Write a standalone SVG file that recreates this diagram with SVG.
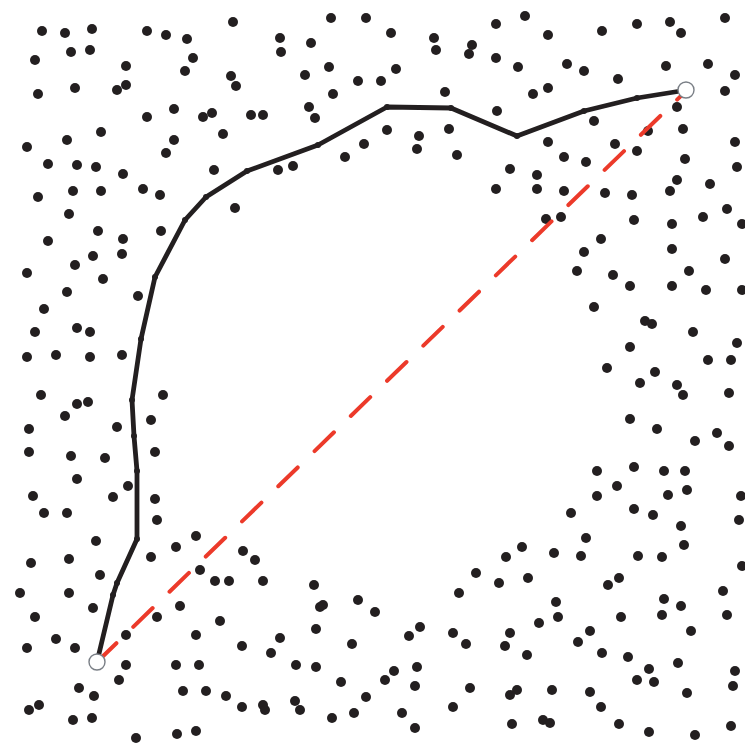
<svg xmlns="http://www.w3.org/2000/svg" width="745" height="744" viewBox="0 0 745 744">
<defs>
<style>
.d{fill:#231f20}
.k{fill:#231f20}
.path{fill:none;stroke:#231f20;stroke-width:4.8;stroke-linejoin:round;stroke-linecap:round}
.dash{fill:none;stroke:#ec3a2a;stroke-width:4;stroke-dasharray:27 23.5;stroke-linecap:round}
.end{fill:#ffffff;stroke:#7a7f86;stroke-width:1.4}
</style>
</defs>
<rect width="745" height="744" fill="#ffffff"/>
<g id="dots">
<circle class="d" r="5" cx="42" cy="31"/><circle class="d" r="5" cx="65" cy="33"/><circle class="d" r="5" cx="92" cy="29"/><circle class="d" r="5" cx="147" cy="31"/><circle class="d" r="5" cx="166" cy="35"/><circle class="d" r="5" cx="187" cy="39"/><circle class="d" r="5" cx="233" cy="22"/><circle class="d" r="5" cx="35" cy="60"/><circle class="d" r="5" cx="71" cy="52"/><circle class="d" r="5" cx="90" cy="50"/><circle class="d" r="5" cx="126" cy="66"/><circle class="d" r="5" cx="193" cy="58"/><circle class="d" r="5" cx="185" cy="71"/><circle class="d" r="5" cx="231" cy="76"/><circle class="d" r="5" cx="236" cy="86"/><circle class="d" r="5" cx="38" cy="94"/><circle class="d" r="5" cx="75" cy="88"/><circle class="d" r="5" cx="117" cy="90"/><circle class="d" r="5" cx="126" cy="85"/><circle class="d" r="5" cx="174" cy="109"/><circle class="d" r="5" cx="147" cy="117"/><circle class="d" r="5" cx="203" cy="117"/><circle class="d" r="5" cx="212" cy="113"/><circle class="d" r="5" cx="251" cy="115"/><circle class="d" r="5" cx="223" cy="134"/><circle class="d" r="5" cx="101" cy="132"/><circle class="d" r="5" cx="67" cy="140"/><circle class="d" r="5" cx="27" cy="147"/><circle class="d" r="5" cx="174" cy="140"/><circle class="d" r="5" cx="166" cy="153"/><circle class="d" r="5" cx="48" cy="164"/><circle class="d" r="5" cx="77" cy="165"/><circle class="d" r="5" cx="96" cy="167"/><circle class="d" r="5" cx="123" cy="174"/><circle class="d" r="5" cx="214" cy="170"/><circle class="d" r="5" cx="73" cy="191"/><circle class="d" r="5" cx="101" cy="191"/><circle class="d" r="5" cx="143" cy="189"/><circle class="d" r="5" cx="160" cy="195"/><circle class="d" r="5" cx="38" cy="197"/><circle class="d" r="5" cx="235" cy="208"/><circle class="d" r="5" cx="69" cy="214"/><circle class="d" r="5" cx="98" cy="231"/><circle class="d" r="5" cx="161" cy="231"/><circle class="d" r="5" cx="48" cy="241"/><circle class="d" r="5" cx="123" cy="239"/>
<circle class="d" r="5" cx="331" cy="18"/><circle class="d" r="5" cx="366" cy="18"/><circle class="d" r="5" cx="391" cy="33"/><circle class="d" r="5" cx="280" cy="38"/><circle class="d" r="5" cx="281" cy="52"/><circle class="d" r="5" cx="311" cy="43"/><circle class="d" r="5" cx="434" cy="38"/><circle class="d" r="5" cx="436" cy="50"/><circle class="d" r="5" cx="472" cy="45"/><circle class="d" r="5" cx="469" cy="54"/><circle class="d" r="5" cx="496" cy="24"/><circle class="d" r="5" cx="496" cy="58"/><circle class="d" r="5" cx="329" cy="67"/><circle class="d" r="5" cx="305" cy="75"/><circle class="d" r="5" cx="358" cy="81"/><circle class="d" r="5" cx="381" cy="81"/><circle class="d" r="5" cx="396" cy="69"/><circle class="d" r="5" cx="333" cy="94"/><circle class="d" r="5" cx="445" cy="92"/><circle class="d" r="5" cx="263" cy="115"/><circle class="d" r="5" cx="309" cy="107"/><circle class="d" r="5" cx="315" cy="118"/><circle class="d" r="5" cx="497" cy="111"/><circle class="d" r="5" cx="387" cy="130"/><circle class="d" r="5" cx="419" cy="136"/><circle class="d" r="5" cx="417" cy="149"/><circle class="d" r="5" cx="449" cy="129"/><circle class="d" r="5" cx="457" cy="155"/><circle class="d" r="5" cx="364" cy="144"/><circle class="d" r="5" cx="345" cy="157"/><circle class="d" r="5" cx="293" cy="166"/><circle class="d" r="5" cx="278" cy="170"/><circle class="d" r="5" cx="496" cy="189"/>
<circle class="d" r="5" cx="525" cy="16"/><circle class="d" r="5" cx="548" cy="35"/><circle class="d" r="5" cx="602" cy="31"/><circle class="d" r="5" cx="637" cy="24"/><circle class="d" r="5" cx="670" cy="22"/><circle class="d" r="5" cx="681" cy="33"/><circle class="d" r="5" cx="725" cy="18"/><circle class="d" r="5" cx="518" cy="67"/><circle class="d" r="5" cx="567" cy="64"/><circle class="d" r="5" cx="584" cy="71"/><circle class="d" r="5" cx="618" cy="79"/><circle class="d" r="5" cx="666" cy="66"/><circle class="d" r="5" cx="708" cy="64"/><circle class="d" r="5" cx="735" cy="75"/><circle class="d" r="5" cx="725" cy="91"/><circle class="d" r="5" cx="533" cy="94"/><circle class="d" r="5" cx="548" cy="88"/><circle class="d" r="5" cx="594" cy="121"/><circle class="d" r="5" cx="677" cy="107"/><circle class="d" r="5" cx="683" cy="129"/><circle class="d" r="5" cx="548" cy="142"/><circle class="d" r="5" cx="615" cy="144"/><circle class="d" r="5" cx="637" cy="151"/><circle class="d" r="5" cx="735" cy="142"/><circle class="d" r="5" cx="648" cy="131"/><circle class="d" r="5" cx="564" cy="157"/><circle class="d" r="5" cx="586" cy="162"/><circle class="d" r="5" cx="685" cy="159"/><circle class="d" r="5" cx="510" cy="169"/><circle class="d" r="5" cx="537" cy="175"/><circle class="d" r="5" cx="537" cy="189"/><circle class="d" r="5" cx="737" cy="167"/><circle class="d" r="5" cx="677" cy="180"/><circle class="d" r="5" cx="564" cy="191"/><circle class="d" r="5" cx="605" cy="193"/><circle class="d" r="5" cx="632" cy="195"/><circle class="d" r="5" cx="670" cy="191"/><circle class="d" r="5" cx="710" cy="184"/><circle class="d" r="5" cx="546" cy="219"/><circle class="d" r="5" cx="561" cy="217"/><circle class="d" r="5" cx="634" cy="220"/><circle class="d" r="5" cx="672" cy="224"/><circle class="d" r="5" cx="703" cy="217"/><circle class="d" r="5" cx="727" cy="209"/><circle class="d" r="5" cx="742" cy="224"/><circle class="d" r="5" cx="601" cy="239"/><circle class="d" r="5" cx="672" cy="249"/><circle class="d" r="5" cx="584" cy="252"/>
<circle class="d" r="5" cx="93" cy="256"/><circle class="d" r="5" cx="122" cy="254"/><circle class="d" r="5" cx="75" cy="265"/><circle class="d" r="5" cx="27" cy="273"/><circle class="d" r="5" cx="103" cy="279"/><circle class="d" r="5" cx="67" cy="292"/><circle class="d" r="5" cx="138" cy="296"/><circle class="d" r="5" cx="44" cy="309"/><circle class="d" r="5" cx="35" cy="332"/><circle class="d" r="5" cx="77" cy="328"/><circle class="d" r="5" cx="90" cy="332"/><circle class="d" r="5" cx="27" cy="357"/><circle class="d" r="5" cx="56" cy="355"/><circle class="d" r="5" cx="90" cy="357"/><circle class="d" r="5" cx="122" cy="355"/><circle class="d" r="5" cx="163" cy="395"/><circle class="d" r="5" cx="41" cy="395"/><circle class="d" r="5" cx="77" cy="404"/><circle class="d" r="5" cx="88" cy="402"/><circle class="d" r="5" cx="65" cy="416"/><circle class="d" r="5" cx="151" cy="420"/><circle class="d" r="5" cx="117" cy="427"/><circle class="d" r="5" cx="29" cy="429"/><circle class="d" r="5" cx="29" cy="452"/><circle class="d" r="5" cx="71" cy="456"/><circle class="d" r="5" cx="105" cy="458"/><circle class="d" r="5" cx="155" cy="452"/><circle class="d" r="5" cx="77" cy="479"/><circle class="d" r="5" cx="128" cy="486"/><circle class="d" r="5" cx="33" cy="496"/><circle class="d" r="5" cx="113" cy="497"/><circle class="d" r="5" cx="155" cy="499"/>
<circle class="d" r="5" cx="725" cy="259"/><circle class="d" r="5" cx="577" cy="271"/><circle class="d" r="5" cx="613" cy="275"/><circle class="d" r="5" cx="630" cy="286"/><circle class="d" r="5" cx="689" cy="271"/><circle class="d" r="5" cx="672" cy="286"/><circle class="d" r="5" cx="706" cy="290"/><circle class="d" r="5" cx="742" cy="290"/><circle class="d" r="5" cx="594" cy="307"/><circle class="d" r="5" cx="645" cy="321"/><circle class="d" r="5" cx="652" cy="324"/><circle class="d" r="5" cx="693" cy="332"/><circle class="d" r="5" cx="737" cy="343"/><circle class="d" r="5" cx="630" cy="347"/><circle class="d" r="5" cx="708" cy="360"/><circle class="d" r="5" cx="731" cy="360"/><circle class="d" r="5" cx="607" cy="368"/><circle class="d" r="5" cx="655" cy="372"/><circle class="d" r="5" cx="640" cy="383"/><circle class="d" r="5" cx="677" cy="385"/><circle class="d" r="5" cx="683" cy="395"/><circle class="d" r="5" cx="729" cy="393"/><circle class="d" r="5" cx="630" cy="419"/><circle class="d" r="5" cx="657" cy="429"/><circle class="d" r="5" cx="717" cy="433"/><circle class="d" r="5" cx="695" cy="441"/><circle class="d" r="5" cx="729" cy="446"/><circle class="d" r="5" cx="597" cy="471"/><circle class="d" r="5" cx="634" cy="467"/><circle class="d" r="5" cx="664" cy="471"/><circle class="d" r="5" cx="685" cy="471"/><circle class="d" r="5" cx="617" cy="486"/><circle class="d" r="5" cx="597" cy="496"/><circle class="d" r="5" cx="668" cy="495"/><circle class="d" r="5" cx="687" cy="490"/><circle class="d" r="5" cx="741" cy="496"/>
<circle class="d" r="5" cx="44" cy="513"/><circle class="d" r="5" cx="67" cy="513"/><circle class="d" r="5" cx="157" cy="520"/><circle class="d" r="5" cx="96" cy="541"/><circle class="d" r="5" cx="196" cy="536"/><circle class="d" r="5" cx="176" cy="547"/><circle class="d" r="5" cx="243" cy="551"/><circle class="d" r="5" cx="31" cy="563"/><circle class="d" r="5" cx="69" cy="559"/><circle class="d" r="5" cx="151" cy="557"/><circle class="d" r="5" cx="100" cy="575"/><circle class="d" r="5" cx="200" cy="570"/><circle class="d" r="5" cx="215" cy="581"/><circle class="d" r="5" cx="229" cy="581"/><circle class="d" r="5" cx="20" cy="593"/><circle class="d" r="5" cx="69" cy="593"/><circle class="d" r="5" cx="180" cy="606"/><circle class="d" r="5" cx="93" cy="608"/><circle class="d" r="5" cx="35" cy="617"/><circle class="d" r="5" cx="157" cy="617"/><circle class="d" r="5" cx="220" cy="621"/><circle class="d" r="5" cx="126" cy="635"/><circle class="d" r="5" cx="56" cy="639"/><circle class="d" r="5" cx="196" cy="635"/><circle class="d" r="5" cx="27" cy="648"/><circle class="d" r="5" cx="75" cy="648"/><circle class="d" r="5" cx="242" cy="646"/><circle class="d" r="5" cx="126" cy="665"/><circle class="d" r="5" cx="176" cy="665"/><circle class="d" r="5" cx="199" cy="665"/><circle class="d" r="5" cx="119" cy="680"/><circle class="d" r="5" cx="79" cy="688"/><circle class="d" r="5" cx="94" cy="696"/><circle class="d" r="5" cx="183" cy="691"/><circle class="d" r="5" cx="206" cy="691"/><circle class="d" r="5" cx="226" cy="696"/><circle class="d" r="5" cx="242" cy="707"/><circle class="d" r="5" cx="29" cy="710"/><circle class="d" r="5" cx="39" cy="705"/><circle class="d" r="5" cx="73" cy="720"/><circle class="d" r="5" cx="92" cy="718"/><circle class="d" r="5" cx="136" cy="738"/><circle class="d" r="5" cx="177" cy="734"/><circle class="d" r="5" cx="196" cy="731"/>
<circle class="d" r="5" cx="255" cy="560"/><circle class="d" r="5" cx="263" cy="581"/><circle class="d" r="5" cx="314" cy="585"/><circle class="d" r="5" cx="320" cy="607"/><circle class="d" r="5" cx="323" cy="605"/><circle class="d" r="5" cx="358" cy="600"/><circle class="d" r="5" cx="375" cy="612"/><circle class="d" r="5" cx="316" cy="629"/><circle class="d" r="5" cx="280" cy="638"/><circle class="d" r="5" cx="271" cy="653"/><circle class="d" r="5" cx="352" cy="644"/><circle class="d" r="5" cx="409" cy="636"/><circle class="d" r="5" cx="420" cy="627"/><circle class="d" r="5" cx="453" cy="633"/><circle class="d" r="5" cx="466" cy="644"/><circle class="d" r="5" cx="459" cy="593"/><circle class="d" r="5" cx="476" cy="573"/><circle class="d" r="5" cx="499" cy="583"/><circle class="d" r="5" cx="296" cy="665"/><circle class="d" r="5" cx="316" cy="667"/><circle class="d" r="5" cx="341" cy="682"/><circle class="d" r="5" cx="385" cy="680"/><circle class="d" r="5" cx="394" cy="671"/><circle class="d" r="5" cx="417" cy="667"/><circle class="d" r="5" cx="415" cy="686"/><circle class="d" r="5" cx="470" cy="688"/><circle class="d" r="5" cx="366" cy="697"/><circle class="d" r="5" cx="263" cy="705"/><circle class="d" r="5" cx="265" cy="710"/><circle class="d" r="5" cx="295" cy="701"/><circle class="d" r="5" cx="300" cy="710"/><circle class="d" r="5" cx="332" cy="718"/><circle class="d" r="5" cx="354" cy="713"/><circle class="d" r="5" cx="402" cy="713"/><circle class="d" r="5" cx="415" cy="728"/><circle class="d" r="5" cx="453" cy="707"/>
<circle class="d" r="5" cx="571" cy="513"/><circle class="d" r="5" cx="634" cy="509"/><circle class="d" r="5" cx="653" cy="515"/><circle class="d" r="5" cx="681" cy="526"/><circle class="d" r="5" cx="739" cy="520"/><circle class="d" r="5" cx="586" cy="538"/><circle class="d" r="5" cx="522" cy="547"/><circle class="d" r="5" cx="506" cy="557"/><circle class="d" r="5" cx="554" cy="553"/><circle class="d" r="5" cx="581" cy="556"/><circle class="d" r="5" cx="638" cy="556"/><circle class="d" r="5" cx="662" cy="557"/><circle class="d" r="5" cx="684" cy="545"/><circle class="d" r="5" cx="742" cy="566"/><circle class="d" r="5" cx="528" cy="578"/><circle class="d" r="5" cx="608" cy="585"/><circle class="d" r="5" cx="619" cy="578"/><circle class="d" r="5" cx="723" cy="591"/><circle class="d" r="5" cx="556" cy="602"/><circle class="d" r="5" cx="558" cy="617"/><circle class="d" r="5" cx="539" cy="623"/><circle class="d" r="5" cx="664" cy="599"/><circle class="d" r="5" cx="681" cy="606"/><circle class="d" r="5" cx="662" cy="615"/><circle class="d" r="5" cx="621" cy="617"/><circle class="d" r="5" cx="727" cy="615"/><circle class="d" r="5" cx="510" cy="633"/><circle class="d" r="5" cx="505" cy="646"/><circle class="d" r="5" cx="590" cy="631"/><circle class="d" r="5" cx="578" cy="642"/><circle class="d" r="5" cx="691" cy="631"/><circle class="d" r="5" cx="527" cy="655"/><circle class="d" r="5" cx="602" cy="653"/><circle class="d" r="5" cx="628" cy="657"/><circle class="d" r="5" cx="678" cy="663"/><circle class="d" r="5" cx="649" cy="669"/><circle class="d" r="5" cx="735" cy="671"/><circle class="d" r="5" cx="637" cy="680"/><circle class="d" r="5" cx="654" cy="682"/><circle class="d" r="5" cx="733" cy="686"/><circle class="d" r="5" cx="510" cy="695"/><circle class="d" r="5" cx="517" cy="690"/><circle class="d" r="5" cx="552" cy="690"/><circle class="d" r="5" cx="590" cy="692"/><circle class="d" r="5" cx="601" cy="707"/><circle class="d" r="5" cx="687" cy="693"/><circle class="d" r="5" cx="512" cy="724"/><circle class="d" r="5" cx="543" cy="720"/><circle class="d" r="5" cx="550" cy="723"/><circle class="d" r="5" cx="619" cy="724"/><circle class="d" r="5" cx="649" cy="732"/><circle class="d" r="5" cx="695" cy="735"/><circle class="d" r="5" cx="731" cy="726"/>
</g>
<g id="connectors">
<path class="dash" d="M97,662 L685,92"/>
<path class="path" d="M97,662 L113,595 L117,583 L137,539 L137,471 L134,436 L132,400 L141,339 L155,277 L185,220 L206,197 L247,171 L318,145 L387,107 L451,108 L517,136 L584,111 L637,98 L687,90"/>
<g id="knots">
<circle class="k" r="3" cx="113" cy="595"/><circle class="k" r="3" cx="117" cy="583"/><circle class="k" r="3" cx="137" cy="539"/><circle class="k" r="3" cx="137" cy="471"/><circle class="k" r="3" cx="134" cy="436"/><circle class="k" r="3" cx="132" cy="400"/><circle class="k" r="3" cx="141" cy="339"/><circle class="k" r="3" cx="155" cy="277"/><circle class="k" r="3" cx="185" cy="220"/><circle class="k" r="3" cx="206" cy="197"/><circle class="k" r="3" cx="247" cy="171"/><circle class="k" r="3" cx="318" cy="145"/><circle class="k" r="3" cx="387" cy="107"/><circle class="k" r="3" cx="451" cy="108"/><circle class="k" r="3" cx="517" cy="136"/><circle class="k" r="3" cx="584" cy="111"/><circle class="k" r="3" cx="637" cy="98"/>
</g>
</g>
<g id="start"><circle class="end" cx="97" cy="662" r="8"/></g>
<g id="end"><circle class="end" cx="686" cy="90" r="8"/></g>
</svg>
